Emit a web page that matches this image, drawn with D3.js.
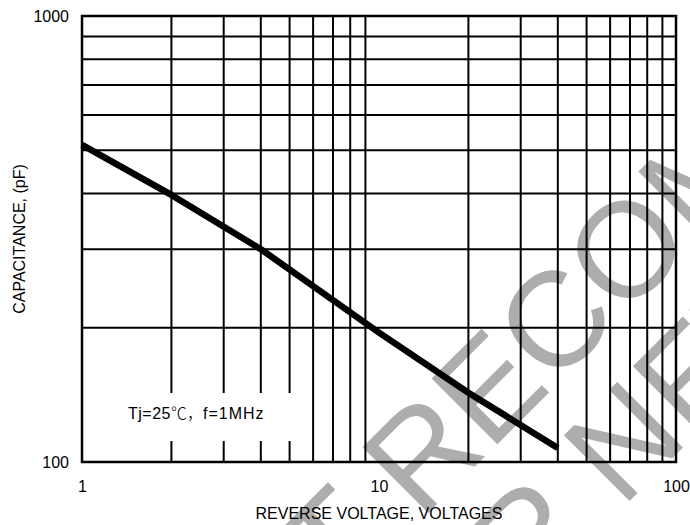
<!DOCTYPE html>
<html><head><meta charset="utf-8">
<script src="https://cdn.jsdelivr.net/npm/d3@7"></script>
<style>
html,body{margin:0;padding:0;background:#fff;}
text{font-family:"Liberation Sans",Arial,Helvetica,sans-serif;}
</style></head>
<body><svg id="c" width="690" height="525"></svg>
<script>
// Data
const voltage = [1, 2, 4, 10, 20, 40];
const capacitance = [514, 397, 300, 195, 143, 107.5];
const xGridValues = [2,3,4,5,6,7,8,9,20,30,40,50,60,70,80,90];
const yGridValues = [200,300,400,500,600,700,800,900];
const xTickLabels = [1, 10, 100];
const yTickLabels = [100, 1000];
const xTitle = "REVERSE VOLTAGE, VOLTAGES";
const yTitle = "CAPACITANCE, (pF)";
const noteParts = ["Tj=25", "\u2103\uFF0C", "f=1MHz"];
const watermark1 = "NOT RECOMMENDED";
const watermark2 = "FOR NEW DESIGN";

const svg = d3.select("#c");
const L = 82, R = 676, T = 16, B = 462;
const x = d3.scaleLog().domain([1, 100]).range([L, R]);
const y = d3.scaleLog().domain([100, 1000]).range([B, T]);

// watermark
const wmSize = 135;
function wm(str, idx, cx, cy) {
  const t = svg.append("text")
    .attr("transform", `translate(${cx},${cy}) rotate(-45)`)
    .attr("font-size", wmSize)
    .attr("fill", "#adadad")
    .attr("y", 0.358 * wmSize)
    .text(str);
  const n = t.node();
  const off = n.getSubStringLength(0, idx) + n.getSubStringLength(idx, 1) / 2;
  t.attr("x", -off);
}
wm(watermark1, 7, 625, 248);
wm(watermark2, 4, 622, 440);

// grid
const g = svg.append("g");
g.selectAll("line.v").data(xGridValues).enter().append("line")
  .attr("x1", d => x(d)).attr("x2", d => x(d)).attr("y1", T).attr("y2", B)
  .attr("stroke", "#000").attr("stroke-width", 2);
g.selectAll("line.h").data(yGridValues).enter().append("line")
  .attr("x1", L).attr("x2", R).attr("y1", d => y(d)).attr("y2", d => y(d))
  .attr("stroke", "#000").attr("stroke-width", 2);

// note box
svg.append("rect").attr("x", 110).attr("y", 393).attr("width", 192).attr("height", 48).attr("fill", "#fff");
const note = svg.append("text").attr("x", 128).attr("y", 419).attr("font-size", 16).attr("fill", "#000");
note.append("tspan").attr("letter-spacing", 0.5).text(noteParts[0]);
note.append("tspan").attr("font-family", '"Noto Sans CJK SC","Noto Sans CJK JP",sans-serif').attr("font-weight", 300).text(noteParts[1]);
note.append("tspan").attr("letter-spacing", 1).text(noteParts[2]);

// frame
svg.append("rect").attr("x", L).attr("y", T).attr("width", R - L).attr("height", B - T)
  .attr("fill", "none").attr("stroke", "#000").attr("stroke-width", 2.5);

// curve
const line = d3.line().x((d, i) => x(voltage[i])).y(d => y(d));
svg.append("path").datum(capacitance).attr("d", line)
  .attr("fill", "none").attr("stroke", "#000").attr("stroke-width", 6.5)
  .attr("stroke-linejoin", "round");

// axes
const xa = svg.append("g").attr("transform", `translate(0,${B})`)
  .call(d3.axisBottom(x).tickValues(xTickLabels).tickSize(0).tickPadding(19).tickFormat(d3.format("d")));
const ya = svg.append("g").attr("transform", `translate(${L},0)`)
  .call(d3.axisLeft(y).tickValues(yTickLabels).tickSize(0).tickPadding(13).tickFormat(d3.format("d")));
[xa, ya].forEach(a => {
  a.select(".domain").remove();
  a.selectAll("text").attr("font-size", 16).attr("fill", "#000")
    .attr("font-family", '"Liberation Sans",Arial,Helvetica,sans-serif');
});

svg.append("text").attr("x", (L + R) / 2).attr("y", 519).attr("text-anchor", "middle")
  .attr("font-size", 16).text(xTitle);
svg.append("text").attr("transform", `translate(25,${(T + B) / 2}) rotate(-90)`)
  .attr("text-anchor", "middle").attr("font-size", 16).text(yTitle);
</script></body></html>
